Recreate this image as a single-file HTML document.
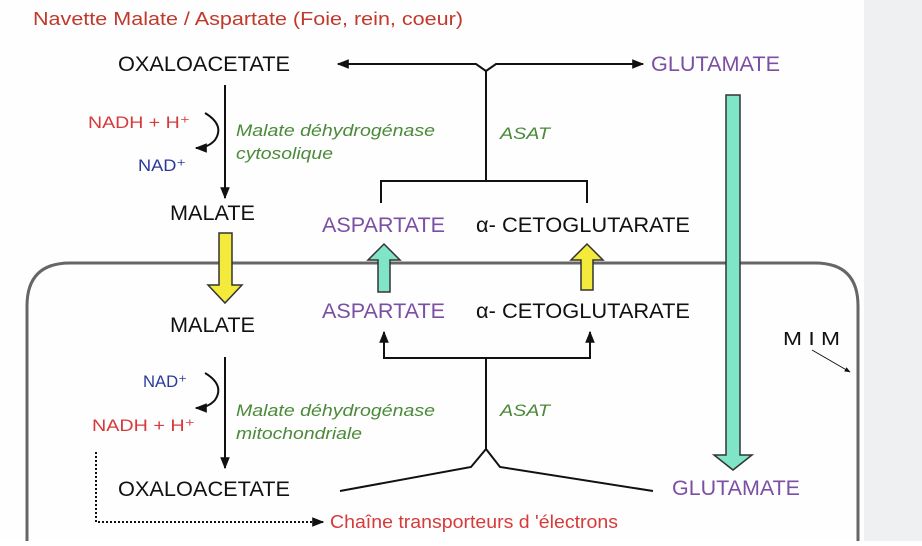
<!DOCTYPE html>
<html><head><meta charset="utf-8"><style>
body{margin:0;width:922px;height:541px;overflow:hidden;background:#fff;font-family:"Liberation Sans",sans-serif}
</style></head><body>
<svg width="922" height="541" xmlns="http://www.w3.org/2000/svg" font-family="Liberation Sans, sans-serif">
<defs>
<marker id="a" viewBox="0 0 10 10" refX="9" refY="5" markerWidth="6" markerHeight="6" orient="auto"><path d="M0,1 L10,5 L0,9 z" fill="#111"/></marker>
</defs>
<rect x="0" y="0" width="922" height="541" fill="#fefefe"/>
<rect x="864" y="0" width="58" height="541" fill="#eff0f2"/>
<path d="M70,263 L815,263 Q858,263 858,306 L858,560 M70,263 Q27,263 27,306 L27,560" fill="none" stroke="#666" stroke-width="3"/>
<text x="33" y="25" font-size="18" fill="#c0392b" textLength="430" lengthAdjust="spacingAndGlyphs">Navette Malate / Aspartate (Foie, rein, coeur)</text>
<g font-size="21" fill="#111">
<text x="118" y="71" textLength="172" lengthAdjust="spacingAndGlyphs">OXALOACETATE</text>
<text x="170" y="220" textLength="85" lengthAdjust="spacingAndGlyphs">MALATE</text>
<text x="476" y="232" textLength="214" lengthAdjust="spacingAndGlyphs">α- CETOGLUTARATE</text>
<text x="170" y="332" textLength="85" lengthAdjust="spacingAndGlyphs">MALATE</text>
<text x="476" y="318" textLength="214" lengthAdjust="spacingAndGlyphs">α- CETOGLUTARATE</text>
<text x="118" y="496" textLength="172" lengthAdjust="spacingAndGlyphs">OXALOACETATE</text>
<text x="783" y="345" font-size="18" textLength="57" lengthAdjust="spacingAndGlyphs">M I M</text>
</g>
<g font-size="21" fill="#7b4fa3">
<text x="651" y="71" textLength="129" lengthAdjust="spacingAndGlyphs">GLUTAMATE</text>
<text x="322" y="232" textLength="123" lengthAdjust="spacingAndGlyphs">ASPARTATE</text>
<text x="322" y="318" textLength="123" lengthAdjust="spacingAndGlyphs">ASPARTATE</text>
<text x="672" y="495" textLength="128" lengthAdjust="spacingAndGlyphs">GLUTAMATE</text>
</g>
<g font-size="17" fill="#d63a3a">
<text x="88" y="128" textLength="102" lengthAdjust="spacingAndGlyphs">NADH + H⁺</text>
<text x="92" y="431" textLength="103" lengthAdjust="spacingAndGlyphs">NADH + H⁺</text>
<text x="330" y="528" font-size="18" textLength="288" lengthAdjust="spacingAndGlyphs">Chaîne transporteurs d 'électrons</text>
</g>
<g font-size="17" fill="#2a3a9c">
<text x="138" y="171" textLength="48" lengthAdjust="spacingAndGlyphs">NAD⁺</text>
<text x="143" y="387" textLength="44" lengthAdjust="spacingAndGlyphs">NAD⁺</text>
</g>
<g font-size="17" fill="#4a8a3a" font-style="italic">
<text x="236" y="136" textLength="199" lengthAdjust="spacingAndGlyphs">Malate déhydrogénase</text>
<text x="236" y="159" textLength="97" lengthAdjust="spacingAndGlyphs">cytosolique</text>
<text x="500" y="139" textLength="50" lengthAdjust="spacingAndGlyphs">ASAT</text>
<text x="236" y="416" textLength="199" lengthAdjust="spacingAndGlyphs">Malate déhydrogénase</text>
<text x="236" y="439" textLength="126" lengthAdjust="spacingAndGlyphs">mitochondriale</text>
<text x="500" y="416" textLength="50" lengthAdjust="spacingAndGlyphs">ASAT</text>
</g>
<g stroke="#111" stroke-width="2" fill="none">
<path d="M486,181 V71 L476,64 H338" marker-end="url(#a)"/>
<path d="M486,71 L496,64 H643" marker-end="url(#a)"/>
<path d="M381,203 V181 H587 V203"/>
<path d="M225,85 V198" marker-end="url(#a)"/>
<path d="M205,113 Q225,125 215,140 Q208,148 196,148" marker-end="url(#a)"/>
<path d="M225,357 V468" marker-end="url(#a)"/>
<path d="M205,373 Q225,385 215,400 Q208,408 196,408" marker-end="url(#a)"/>
<path d="M486,358 H384 V332" marker-end="url(#a)"/>
<path d="M486,358 H590 V332" marker-end="url(#a)"/>
<path d="M486,358 V449 L471,467 L340,491 M486,449 L500,467 L653,491"/>
<path d="M96,452 V522 H323" stroke-dasharray="2,2" marker-end="url(#a)"/>
<path d="M812,350 L850,372" stroke-width="1" marker-end="url(#a)"/>
</g>
<path d="M219,233 H232 V285 H242 L225,303 L208,285 H219 Z" fill="#f4ea3c" stroke="#333" stroke-width="1.5"/>
<path d="M378,292 V260 H368 L384,244 L400,260 H390 V292 Z" fill="#7fe5c6" stroke="#333" stroke-width="1.5"/>
<path d="M581,290 V260 H571 L587,244 L603,260 H593 V290 Z" fill="#f4ea3c" stroke="#333" stroke-width="1.5"/>
<path d="M726,95 H740 V455 H752 L733,470 L714,455 H726 Z" fill="#7fe5c6" stroke="#333" stroke-width="1.5"/>
</svg>
</body></html>
